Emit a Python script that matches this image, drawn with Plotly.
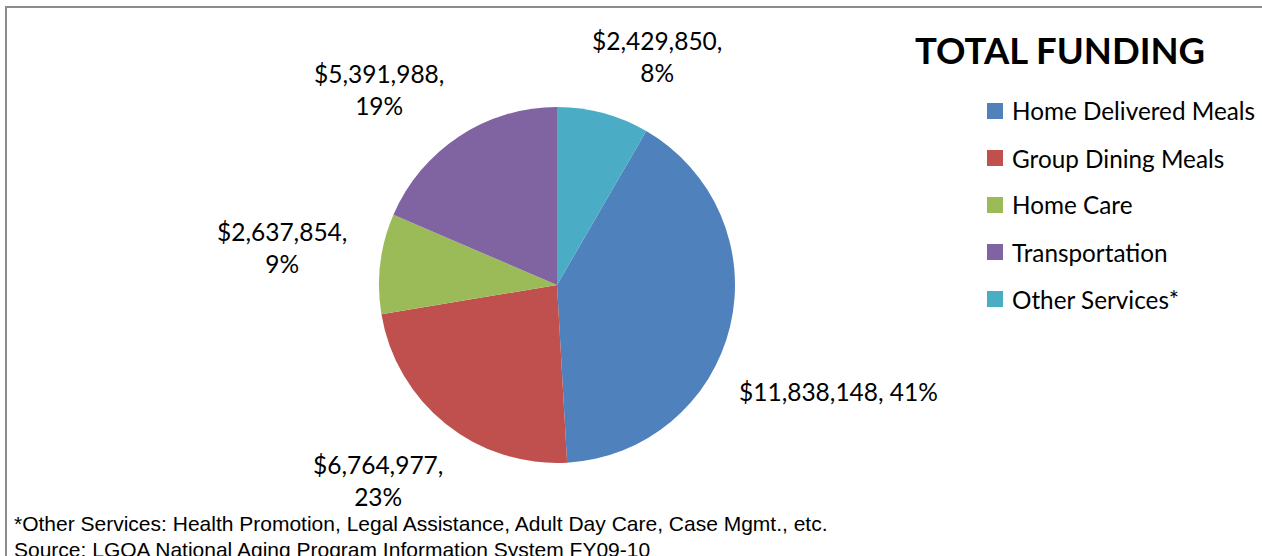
import plotly.graph_objects as go

# Funding by service category
categories = ["Home Delivered Meals", "Group Dining Meals", "Home Care",
              "Transportation", "Other Services*"]
funding = [11838148, 6764977, 2637854, 5391988, 2429850]

chart_title = "TOTAL FUNDING"
footnotes = [
    "*Other Services: Health Promotion, Legal Assistance, Adult Day Care, Case Mgmt., etc.",
    "Source: LGOA National Aging Program Information System FY09-10",
]

# Styling
colors = ["#4F81BD", "#C0504D", "#9BBB59", "#8064A2", "#4BACC6"]
W, H = 1262, 556
cx, cy, r = 557, 285, 178          # pie centre / radius in px
label_font = "Lato, Calibri, sans-serif"

# label anchor points (px from top-left) and whether the label wraps
label_pos = [(838, 392, False), (378, 480, True), (282, 247, True),
             (379, 89, True), (657, 56, True)]

total = sum(funding)
# rotate so the last slice ends at 12 o'clock
rotation = 360 * funding[-1] / total

fig = go.Figure(go.Pie(
    labels=categories,
    values=funding,
    sort=False,
    direction="clockwise",
    rotation=rotation,
    marker=dict(colors=colors, line=dict(width=0)),
    textinfo="none",
    hoverinfo="label+value+percent",
    showlegend=False,
    domain=dict(x=[(cx - r) / W, (cx + r) / W],
                y=[(H - cy - r) / H, (H - cy + r) / H]),
))

annotations = []
shapes = []

# data labels
for v, (px, py, wrap) in zip(funding, label_pos):
    pct = round(100 * v / total)
    sep = ",<br>" if wrap else ", "
    annotations.append(dict(
        x=px / W, y=1 - py / H, xref="paper", yref="paper",
        text=f"${v:,}{sep}{pct}%", showarrow=False,
        xanchor="center", yanchor="middle", align="center",
        font=dict(family=label_font, size=24.5, color="#000"),
    ))

# title over the legend
annotations.append(dict(
    x=913 / W, y=1 - 50 / H, xref="paper", yref="paper",
    text=f"<b>{chart_title}</b>", showarrow=False,
    xanchor="left", yanchor="middle",
    font=dict(family=label_font, size=36.5, color="#000"),
))

# legend swatches and entries
for i, (name, col) in enumerate(zip(categories, colors)):
    yc = 111 + i * 47.
    shapes.append(dict(
        type="rect", xref="paper", yref="paper",
        x0=987 / W, x1=1003 / W,
        y0=1 - (yc + 8) / H, y1=1 - (yc - 8) / H,
        fillcolor=col, line=dict(width=0),
    ))
    annotations.append(dict(
        x=1010 / W, y=1 - yc / H, xref="paper", yref="paper",
        text=name, showarrow=False, xanchor="left", yanchor="middle",
        font=dict(family=label_font, size=24.3, color="#000"),
    ))

# footnotes
for i, line in enumerate(footnotes):
    annotations.append(dict(
        x=12 / W, y=1 - (523 + 26 * i) / H, xref="paper", yref="paper",
        text=line, showarrow=False, xanchor="left", yanchor="middle",
        font=dict(family="Liberation Sans, Arial", size=21, color="#000"),
    ))

# chart frame
shapes.append(dict(
    type="rect", xref="paper", yref="paper",
    x0=6 / W, x1=1.02, y0=-0.05, y1=1 - 7 / H,
    line=dict(color="#8C8C8C", width=2), fillcolor="rgba(0,0,0,0)",
))

fig.update_layout(
    width=W, height=H,
    margin=dict(l=0, r=0, t=0, b=0),
    paper_bgcolor="white", plot_bgcolor="white",
    annotations=annotations, shapes=shapes,
)

fig.write_html("out.html")
